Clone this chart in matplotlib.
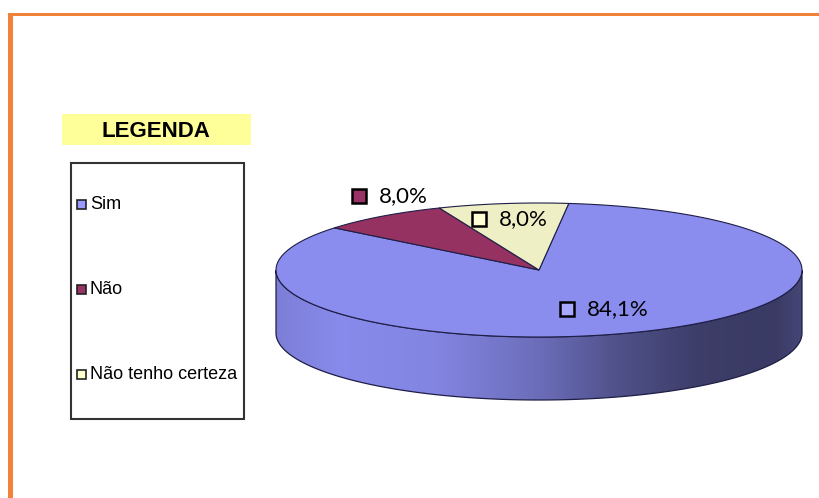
import numpy as np
import matplotlib
matplotlib.use("Agg")
import matplotlib.pyplot as plt
from matplotlib.patches import Polygon, Rectangle
from matplotlib import font_manager

# dados
categorias = ["Sim", "Não", "Não tenho certeza"]
valores = [84.1, 8.0, 8.0]
rotulos = ["84,1%", "8,0%", "8,0%"]

# cores
cores_topo = ["#8A8CEE", "#963262", "#EFEFC6"]
cores_legenda = ["#9999FF", "#993366", "#FFFFCC"]
cores_marcador = ["#A8A8FF", "#993366", "#FFFFD6"]

# posicao dos rotulos (canto esquerdo do quadradinho, centro y)
pos_rotulos = [(560, 309), (352, 196), (472, 219)]
pos_legenda = [204, 289, 374]

# geometria da pizza em pixels
cx, cy = 539, 270
a, b = 263, 67
prof = 63
inicio = 83.5

nomes = {f.name for f in font_manager.fontManager.ttflist}
fonte_leg = "Liberation Sans Narrow" if "Liberation Sans Narrow" in nomes else "Liberation Sans"


def ponto(t, dy=0.0):
    t = np.radians(t)
    return cx + a * np.cos(t), cy - b * np.sin(t) + dy


def arco(t1, t2, dy=0.0, n=200):
    ts = np.linspace(t1, t2, n)
    xs, ys = ponto(ts, dy)
    return np.column_stack([xs, ys])


fig = plt.figure(figsize=(8.2, 4.98), dpi=100)
ax = fig.add_axes([0, 0, 1, 1])
ax.set_xlim(0, 820)
ax.set_ylim(498, 0)
ax.axis("off")

# moldura laranja
ax.add_patch(Rectangle((8, 13), 812, 3, color="#F0823A", lw=0))
ax.add_patch(Rectangle((8, 13), 5, 490, color="#F0823A", lw=0))

total = sum(valores)
angs = np.cumsum([0] + valores) * 360.0 / total
fatias = []
for i, v in enumerate(valores):
    hi = inicio - angs[i]
    lo = inicio - angs[i + 1]
    fatias.append((lo, hi))

# perfil de sombreamento da lateral
px = [0, 0.12, 0.3, 0.5, 0.65, 0.8, 0.95, 1.0]
pf = [0.9, 0.99, 0.95, 0.78, 0.58, 0.44, 0.42, 0.5]

for i, (lo, hi) in enumerate(fatias):
    for k in (-360, 0, 360):
        s = max(lo, 180 + k)
        e = min(hi, 360 + k)
        if s >= e:
            continue
        topo = arco(s, e)
        base = arco(e, s, prof)
        pts = np.vstack([topo, base])
        poly = Polygon(pts, closed=True, facecolor="none", edgecolor="#1E1E46", lw=0.9, zorder=3)
        ax.add_patch(poly)
        cor = np.array(matplotlib.colors.to_rgb(cores_topo[i]))
        xx = np.linspace(0, 1, 400)
        f = np.interp(xx, px, pf)
        img = np.clip(f[:, None] * cor[None, :], 0, 1)[None, :, :]
        im = ax.imshow(img, extent=(cx - a, cx + a, cy + b + prof + 3, cy - 3),
                       aspect="auto", zorder=2, interpolation="bilinear")
        im.set_clip_path(poly)

ax.set_xlim(0, 820)
ax.set_ylim(498, 0)

for i, (lo, hi) in enumerate(fatias):
    pts = np.vstack([[cx, cy], arco(lo, hi)])
    ax.add_patch(Polygon(pts, closed=True, facecolor=cores_topo[i],
                         edgecolor="#1E1E46", lw=0.8, zorder=4))

# rotulos
for i, r in enumerate(rotulos):
    x, y = pos_rotulos[i]
    ax.add_patch(Rectangle((x, y - 7), 14, 14, facecolor=cores_marcador[i],
                           edgecolor="black", lw=1.8, zorder=6))
    ax.text(x + 27, y, r, fontsize=16, family=["Lato", "DejaVu Sans"],
            va="center", ha="left", zorder=6)

# legenda
ax.add_patch(Rectangle((62, 114), 189, 31, color="#FFFF99", lw=0))
ax.text(156, 131, "LEGENDA", fontsize=16, fontweight="bold",
        family=[fonte_leg, "DejaVu Sans"], ha="center", va="center")
ax.add_patch(Rectangle((71, 163), 173, 256, facecolor="white", edgecolor="#333333", lw=1.5))
for i, c in enumerate(categorias):
    y = pos_legenda[i]
    ax.add_patch(Rectangle((77, y - 4.5), 9, 9, facecolor=cores_legenda[i],
                           edgecolor="#222222", lw=1.2))
    ax.text(90, y, c, fontsize=13, family=[fonte_leg, "DejaVu Sans"],
            ha="left", va="center")

fig.savefig("out.png", dpi=100)
